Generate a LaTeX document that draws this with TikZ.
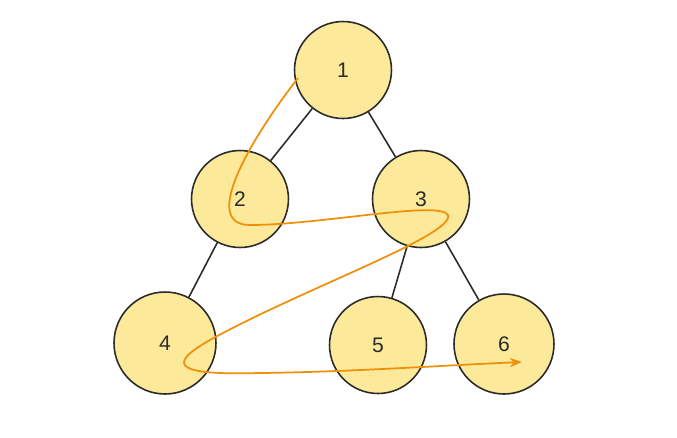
\documentclass[tikz,border=0pt]{standalone}
\usepackage{fontspec}
\setmainfont{Liberation Sans}
\usetikzlibrary{arrows.meta}
\definecolor{nodefill}{HTML}{FDE99A}
\definecolor{edgecol}{HTML}{2B2B2B}
\definecolor{walkcol}{HTML}{F0900A}
\begin{document}
\begin{tikzpicture}[x=0.02cm,y=-0.02cm]

\tikzstyle{vertex} = [circle, draw=edgecol, line width=0.9pt, fill=nodefill, minimum size=1.94cm, font=\large, text=edgecol]
\tikzstyle{edge} = [edgecol, line width=0.9pt]
\tikzstyle{walk} = [walkcol, line width=1pt, -{Stealth[length=7pt]}]

\useasboundingbox (0,0) rectangle (677,437);

\node[vertex] (n1) at (343,70) {1};
\node[vertex] (n2) at (240,199) {2};
\node[vertex] (n3) at (421,199) {3};
\node[vertex, minimum size=2.04cm] (n4) at (165,343) {4};
\node[vertex] (n5) at (378,345) {5};
\node[vertex, minimum size=2cm] (n6) at (504,344) {6};

\draw[edge] (n1) -- (n2);
\draw[edge] (n1) -- (n3);
\draw[edge] (n2) -- (n4);
\draw[edge] (n3) -- (n5);
\draw[edge] (n3) -- (n6);

\coordinate (w0) at (298,78);
\coordinate (w1) at (522,362);
\draw[walk] (w0) .. controls (250,140) and (200,225) .. (250,225)
  .. controls (320,225) and (440,200) .. (448,215)
  .. controls (455,235) and (300,290) .. (210,340)
  .. controls (160,368) and (185,375) .. (260,373)
  .. controls (350,372) and (450,365) .. (w1);
\end{tikzpicture}
\end{document}
